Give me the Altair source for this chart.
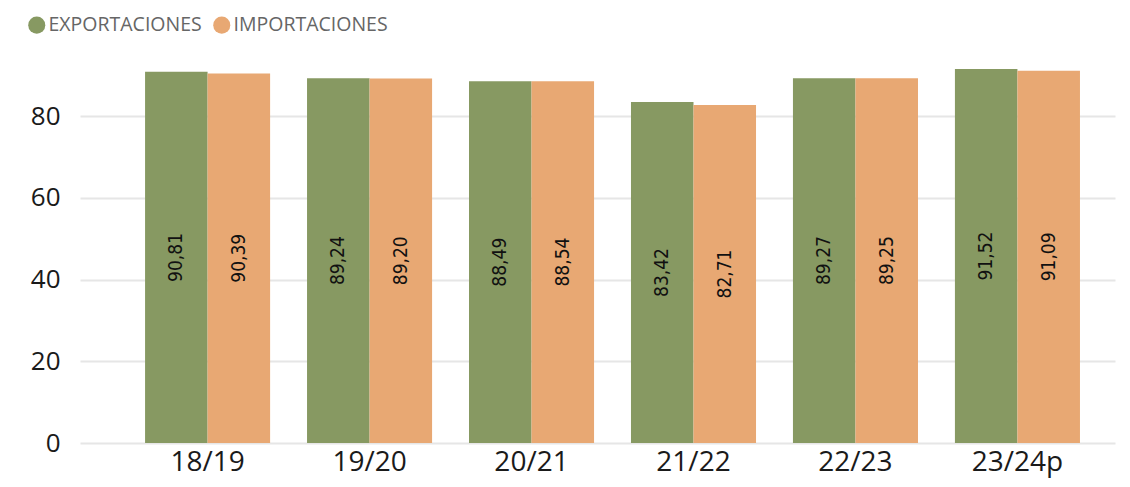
import altair as alt
import pandas as pd

campaigns = ["18/19", "19/20", "20/21", "21/22", "22/23", "23/24p"]
exportaciones = [90.81, 89.24, 88.49, 83.42, 89.27, 91.52]
importaciones = [90.39, 89.20, 88.54, 82.71, 89.25, 91.09]
series = ["EXPORTACIONES", "IMPORTACIONES"]
colors = ["#879962", "#E8A873"]

rows = []
for i, c in enumerate(campaigns):
    rows.append({"campaña": c, "serie": series[0], "valor": exportaciones[i]})
    rows.append({"campaña": c, "serie": series[1], "valor": importaciones[i]})
df = pd.DataFrame(rows)
df["etiqueta"] = df["valor"].map(lambda v: f"{v:.2f}".replace(".", ","))

xscale = alt.Scale(domain=campaigns, paddingInner=0.228, paddingOuter=0.309, align=0.65)

base = alt.Chart(df).encode(
    x=alt.X("campaña:N", scale=xscale, sort=campaigns,
            axis=alt.Axis(title=None, labelAngle=0, labelFontSize=28, labelColor="#1a1a1a",
                          labelFont="Open Sans", ticks=False, domain=False, grid=False,
                          labelPadding=5)),
    xOffset=alt.XOffset("serie:N", sort=series, scale=alt.Scale(paddingInner=0, paddingOuter=0)),
)

bars = base.mark_bar().encode(
    y=alt.Y("valor:Q", scale=alt.Scale(domain=[0, 92], nice=False),
            axis=alt.Axis(title=None, values=[0, 20, 40, 60, 80], labelFontSize=26,
                          labelColor="#1a1a1a", labelFont="Open Sans", ticks=False,
                          domain=False, gridColor="#e6e6e6", gridWidth=2, labelPadding=20)),
    color=alt.Color("serie:N", sort=series,
                    scale=alt.Scale(domain=series, range=colors),
                    legend=alt.Legend(title=None, orient="none", direction="horizontal",
                                      legendX=-53, legendY=-52, symbolType="circle",
                                      symbolSize=290, symbolStrokeWidth=0, symbolOpacity=1,
                                      labelFontSize=19.5, labelColor="#666666", labelFont="Open Sans",
                                      labelOffset=2, columnPadding=10, padding=0)),
)

labels = base.transform_calculate(mid="datum.valor / 2").mark_text(
    angle=270, fontSize=19, color="#111111", font="DejaVu Sans Condensed",
    align="center", baseline="middle"
).encode(
    y=alt.Y("mid:Q", scale=alt.Scale(domain=[0, 92], nice=False)),
    text="etiqueta:N",
)

chart = (bars + labels).properties(
    width=1035, height=376,
    autosize=alt.AutoSizeParams(type="none"),
    padding={"left": 72, "top": 59, "right": 7, "bottom": 36},
    background="white",
).configure_view(strokeWidth=0, stroke="transparent")

chart.save("out.html", embed_options={"renderer": "svg", "actions": False})
